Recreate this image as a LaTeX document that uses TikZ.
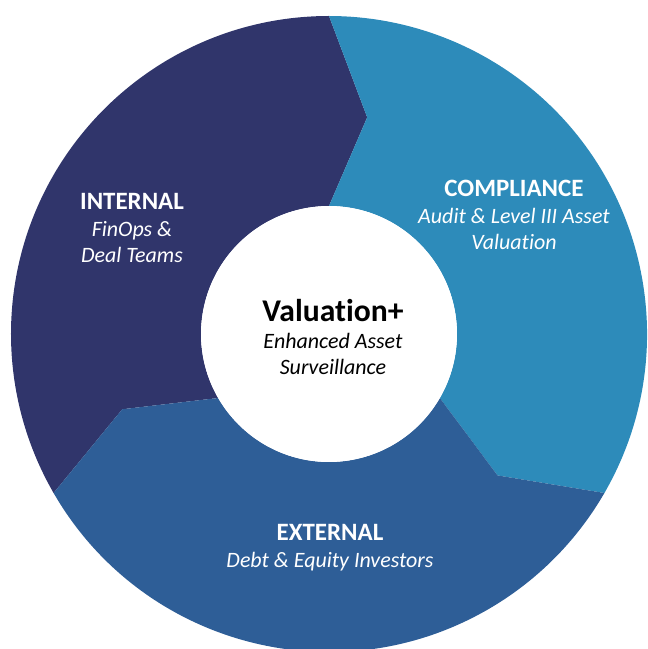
\documentclass[tikz,border=0pt]{standalone}
\usepackage{fontspec}
\setmainfont{Carlito}[Ligatures=NoCommon]
\definecolor{internalblue}{RGB}{48,53,107}
\definecolor{complianceblue}{RGB}{45,139,186}
\definecolor{externalblue}{RGB}{46,94,151}
\tikzset{
	ringpart/.style={fill=#1, draw=none},
	segtext/.style={text=white, align=center, inner sep=0pt,
			font=\fontsize{12.5}{15.3}\selectfont},
	core/.style={circle, fill=white, minimum size=5.12cm, inner sep=0pt}
}

\begin{document}
\begin{tikzpicture}[x=0.02cm, y=0.02cm]
	\useasboundingbox (-329,-315) rectangle (319,334);
	\foreach \s/\c in {90/internalblue, -30/complianceblue, 210/externalblue}{
			\fill[ringpart=\c] (\s-10:220) -- (\s:318)
			arc[start angle=\s, end angle=\s+120, radius=318]
			-- (\s+110:220) -- (\s+120:128)
			arc[start angle=\s+120, end angle=\s, radius=128] -- cycle;
		}
	\node[core] (hub) at (0,0) {};
	\node[align=center, inner sep=0pt, font=\fontsize{12.5}{15}\selectfont] (valuation) at (4,-3)
	{{\bfseries\fontsize{18}{21}\selectfont Valuation+}\\ \textit{Enhanced Asset}\\ \textit{Surveillance}};
	\node[segtext] (internal) at (-197,106)
	{{\bfseries\fontsize{14.2}{15.3}\selectfont INTERNAL}\\ \textit{FinOps \&}\\ \textit{Deal Teams}};
	\node[segtext] (compliance) at (185,119)
	{{\bfseries\fontsize{14.2}{15.3}\selectfont COMPLIANCE}\\ \textit{Audit \& Level III Asset}\\ \textit{Valuation}};
	\node[segtext] (external) at (1,-214)
	{{\bfseries\fontsize{14.2}{15.3}\selectfont EXTERNAL}\\ \textit{Debt \& Equity Investors}};
\end{tikzpicture}
\end{document}
